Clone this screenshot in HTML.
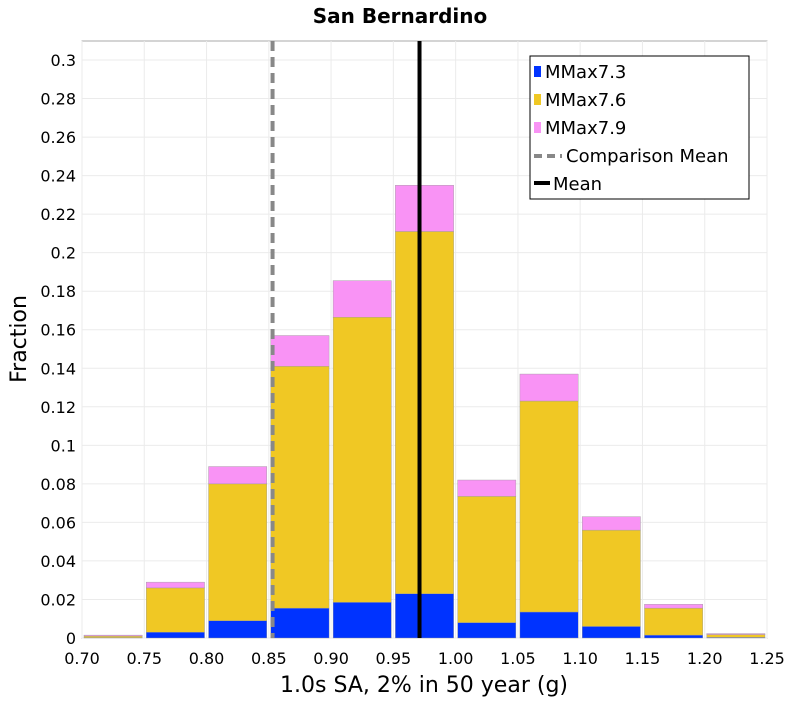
<!DOCTYPE html>
<html><head><meta charset="utf-8"><style>
body{margin:0;background:#fff;font-family:"DejaVu Sans","Liberation Sans",sans-serif}
</style></head><body>
<svg id="c" width="800" height="700" xmlns="http://www.w3.org/2000/svg">
<text x="400" y="23" text-anchor="middle" font-size="20" font-weight="bold" font-family="DejaVu Sans, sans-serif">San Bernardino</text>
<rect x="82" y="41" width="685" height="597" fill="#fff" stroke="#aaa"/>
<g id="grid"></g><g id="bars"></g><g id="lines"></g><g id="axes"></g>
<text x="424" y="692" text-anchor="middle" font-size="22" font-family="DejaVu Sans, sans-serif">1.0s SA, 2% in 50 year (g)</text>
<text transform="translate(26,339) rotate(-90)" text-anchor="middle" font-size="22" font-family="DejaVu Sans, sans-serif">Fraction</text>
<g>
<rect x="530" y="56" width="219" height="143" fill="#fff" stroke="#000"/>
<rect x="534" y="66" width="7" height="11" fill="#0033ff"/>
<text x="545" y="78" font-size="18">MMax7.3</text>
<rect x="534" y="94" width="7" height="11" fill="#f0c824"/>
<text x="545" y="106" font-size="18">MMax7.6</text>
<rect x="534" y="122" width="7" height="11" fill="#f993f5"/>
<text x="545" y="134" font-size="18">MMax7.9</text>
<line x1="534" y1="156" x2="562" y2="156" stroke="#888" stroke-width="4" stroke-dasharray="8,5"/>
<text x="566" y="162" font-size="18">Comparison Mean</text>
<line x1="534" y1="183" x2="550" y2="183" stroke="#000" stroke-width="4"/>
<text x="553" y="190" font-size="18">Mean</text>
</g>
</svg>
<script>
const binStarts=[0.70,0.75,0.80,0.85,0.90,0.95,1.00,1.05,1.10,1.15,1.20];
const mmax73=[0.0002,0.003,0.009,0.0155,0.0185,0.023,0.008,0.0135,0.006,0.0015,0.0003];
const mmax76=[0.0008,0.023,0.071,0.1255,0.148,0.188,0.0655,0.1095,0.050,0.014,0.0015];
const mmax79=[0.0005,0.003,0.009,0.016,0.019,0.024,0.0085,0.014,0.007,0.002,0.0005];
const xTicks=[0.70,0.75,0.80,0.85,0.90,0.95,1.00,1.05,1.10,1.15,1.20,1.25];
const yTicks=[0,0.02,0.04,0.06,0.08,0.1,0.12,0.14,0.16,0.18,0.2,0.22,0.24,0.26,0.28,0.3];
const yTickLabels=["0","0.02","0.04","0.06","0.08","0.1","0.12","0.14","0.16","0.18","0.2","0.22","0.24","0.26","0.28","0.3"];
const binWidth=0.05;
const comparisonMean=0.853;
const meanValue=0.971;
const NS="http://www.w3.org/2000/svg";
const X0=82,X1=767,Y0=638,Y1=60;
const xs=v=>X0+(v-0.70)/(1.25-0.70)*(X1-X0);
const ys=v=>Y0-v/0.3*(Y0-Y1);
function mk(tag,attrs,parent){const e=document.createElementNS(NS,tag);for(const k in attrs)e.setAttribute(k,attrs[k]);document.getElementById(parent).appendChild(e);return e;}
yTicks.forEach((t,i)=>{
 const g=mk('line',{x1:X0,x2:X1,y1:ys(t),y2:ys(t),stroke:'#ebebeb'},'grid');
 
 
 const l=mk('text',{x:X0-6,y:ys(t)+6,'text-anchor':'end','font-size':16},'axes');
 l.textContent=yTickLabels[i];
 
 
});
xTicks.forEach(t=>{
 const g=mk('line',{x1:xs(t),x2:xs(t),y1:41,y2:Y0,stroke:'#ebebeb'},'grid');
 
 
 const l=mk('text',{x:xs(t),y:664,'text-anchor':'middle','font-size':16},'axes');
 l.textContent=t.toFixed(2);
 
 
});
const series=[[mmax73,'#0033ff','mmax73'],[mmax76,'#f0c824','mmax76'],[mmax79,'#f993f5','mmax79']];
binStarts.forEach((b,i)=>{
 let base=0;
 series.forEach(([arr,col,nm])=>{
  const v=arr[i];
  const r=mk('rect',{x:xs(b)+2,width:xs(b+binWidth)-xs(b)-4,y:ys(base+v),height:ys(base)-ys(base+v),fill:col,stroke:'#999','stroke-width':0.4},'bars');
  
  
  base+=v;
 });
});
const cm=mk('line',{x1:xs(comparisonMean),x2:xs(comparisonMean),y1:41,y2:Y0,stroke:'#888','stroke-width':4,'stroke-dasharray':'10,6'},'lines');


const mn=mk('line',{x1:xs(meanValue),x2:xs(meanValue),y1:41,y2:Y0,stroke:'#000','stroke-width':4},'lines');


</script>
</body></html>
